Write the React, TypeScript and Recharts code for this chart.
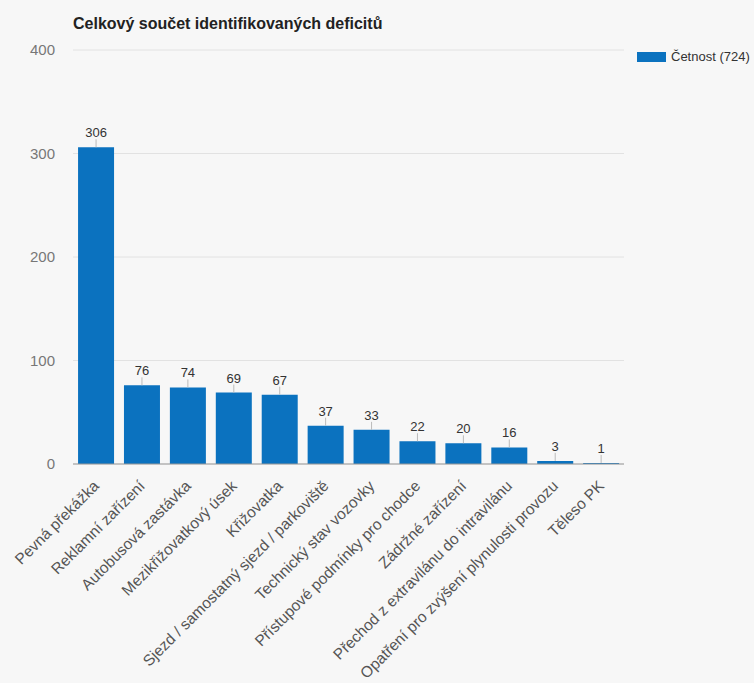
import { Bar, BarChart, CartesianGrid, LabelList, XAxis, YAxis } from "recharts";

const categories = [
  "Pevná překážka",
  "Reklamní zařízení",
  "Autobusová zastávka",
  "Mezikřižovatkový úsek",
  "Křižovatka",
  "Sjezd / samostatný sjezd / parkoviště",
  "Technický stav vozovky",
  "Přístupové podmínky pro chodce",
  "Zádržné zařízení",
  "Přechod z extravilánu do intravilánu",
  "Opatření pro zvýšení plynulosti provozu",
  "Těleso PK",
];
const counts = [306, 76, 74, 69, 67, 37, 33, 22, 20, 16, 3, 1];
const yTicks = [0, 100, 200, 300, 400];
const seriesName = "Četnost (724)";
const title = "Celkový součet identifikovaných deficitů";

const data = categories.map((name, i) => ({ name, value: counts[i] }));

const FONT = "'Liberation Sans', Arial, sans-serif";
const BLUE = "#0b72bf";

const XTick = (props: any) => {
  const { x, y, payload } = props;
  const tx = x + 4;
  const ty = y + 21;
  return (
    <text
      x={tx}
      y={ty}
      textAnchor="end"
      fontSize={15.5}
      fontFamily={FONT}
      fill="#555"
      transform={`rotate(-45, ${tx}, ${ty})`}
    >
      {payload.value}
    </text>
  );
};

const ValueLabel = (props: any) => {
  const { x, y, width, value } = props;
  const cx = x + width / 2;
  return (
    <g>
      <line x1={cx} x2={cx} y1={y} y2={y - 8} stroke="#bbb" strokeWidth={1} />
      <text x={cx} y={y - 10} textAnchor="middle" fontSize={13} fontFamily={FONT} fill="#333">
        {value}
      </text>
    </g>
  );
};

export default function App() {
  return (
    <div style={{ position: "absolute", left: 0, top: 0, width: 754, height: 683, background: "#f7f7f7", overflow: "hidden" }}>
      <div style={{ position: "absolute", left: 73, top: 15, fontFamily: FONT, fontSize: 16, fontWeight: "bold", color: "#222" }}>
        {title}
      </div>
      <div style={{ position: "absolute", left: 637, top: 49, display: "flex", alignItems: "center", fontFamily: FONT, fontSize: 13, color: "#333", whiteSpace: "nowrap" }}>
        <span style={{ display: "inline-block", width: 29, height: 10, background: BLUE, marginRight: 5 }} />
        {seriesName}
      </div>
      <BarChart
        width={754}
        height={683}
        data={data}
        margin={{ top: 50, right: 130, bottom: 0, left: 0 }}
        barCategoryGap="11%"
      >
        <CartesianGrid vertical={false} stroke="#e2e2e2" />
        <XAxis
          dataKey="name"
          interval={0}
          height={219}
          tick={<XTick />}
          tickLine={false}
          tickSize={0}
          axisLine={{ stroke: "#999" }}
        />
        <YAxis
          width={73}
          domain={[0, 400]}
          ticks={yTicks}
          tickLine={false}
          axisLine={false}
          tickMargin={12}
          tick={{ fontSize: 15, fontFamily: FONT, fill: "#777" }}
        />
        <Bar dataKey="value" name={seriesName} fill={BLUE} isAnimationActive={false}>
          <LabelList dataKey="value" content={<ValueLabel />} />
        </Bar>
      </BarChart>
    </div>
  );
}
